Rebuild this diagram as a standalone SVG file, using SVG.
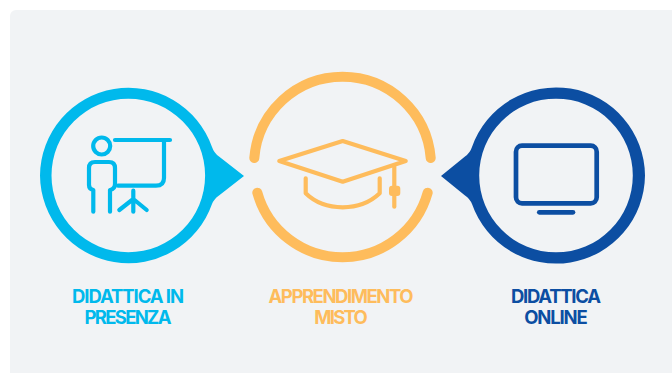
<svg xmlns="http://www.w3.org/2000/svg" width="672" height="373" viewBox="0 0 672 373">
<style>
.cy{fill:#00b9ec}.or{fill:#febc5c}.bl{fill:#0c4ea2}
.s{fill:none;stroke-linecap:round;stroke-linejoin:round}
.cys{stroke:#00b9ec}.ors{stroke:#febc5c}.bls{stroke:#0c4ea2}
text{font-family:"Inter","Lato","Liberation Sans",sans-serif;font-weight:700;font-size:18.500px;text-anchor:middle}
</style>
<rect width="672" height="373" fill="#fff"/>
<rect x="10" y="10" width="700" height="400" rx="6" fill="#f1f3f5"/>
<g id="node-presenza">
<path class="cy" fill-rule="evenodd" d="M40 175.500A88.500 88.500 0 0 1 212 147Q214 153 219 156.500L244 176L219 195.500Q214 199 212 204A88.500 88.500 0 0 1 40 175.500ZM51.500 175.500A76.800 76.800 0 1 0 205.100 175.500A76.800 76.800 0 1 0 51.500 175.500Z"/>
<g class="s cys" stroke-width="4.200">
<path d="M115 140H170M164 140V178Q164 185.700 156 185.700H118"/>
<circle cx="101.700" cy="146" r="8.500"/>
<path d="M93.300 211.700V190Q89 189 89 185V168Q89 162 95 162H109Q115 162 115 168V184Q115 189 110 190V211.700"/>
<path d="M133.300 190.700V211.700M119.300 210L133.300 199L146.700 210"/>
</g>
<text class="cy" x="128" y="303" textLength="112">DIDATTICA IN</text>
<text class="cy" x="128" y="323.500" textLength="87">PRESENZA</text>
</g>
<g id="node-misto">
<path class="s ors" stroke-width="10" d="M254.300 158A88.500 88.500 0 0 1 430.700 158M257.300 192.700A88.500 88.500 0 0 0 427.700 192.700"/>
<g class="s ors" stroke-width="4.200">
<path d="M279.300 161L342.700 141L405.700 161L342.700 181.700Z"/>
<path d="M305.700 178.300V193.300Q320 207.300 342.700 207.300Q365 207.300 379.700 193.300V178.300"/>
<path d="M394.300 166.700V206.700"/>
</g>
<rect class="or" x="389" y="185.700" width="11.300" height="10.300" rx="3"/>
<text class="or" x="341" y="303" textLength="145">APPRENDIMENTO</text>
<text class="or" x="341" y="323.500" textLength="53.600">MISTO</text>
</g>
<g id="node-online">
<path class="bl" fill-rule="evenodd" d="M645 175.500A89 89 0 0 0 472 147Q470 153 465 156.500L441 176L465 195.500Q470 199 472 204A89 89 0 0 0 645 175.500ZM632.800 175.500A76.800 76.800 0 1 1 479.200 175.500A76.800 76.800 0 1 1 632.800 175.500Z"/>
<rect class="s bls" stroke-width="4.700" x="516" y="145.700" width="80.700" height="57.600" rx="6"/>
<path class="s bls" stroke-width="4.700" d="M539.300 212.300H573"/>
<text class="bl" x="556" y="303" textLength="90">DIDATTICA</text>
<text class="bl" x="556" y="323.500" textLength="63.600">ONLINE</text>
</g>
<g id="connectors"/>
</svg>
